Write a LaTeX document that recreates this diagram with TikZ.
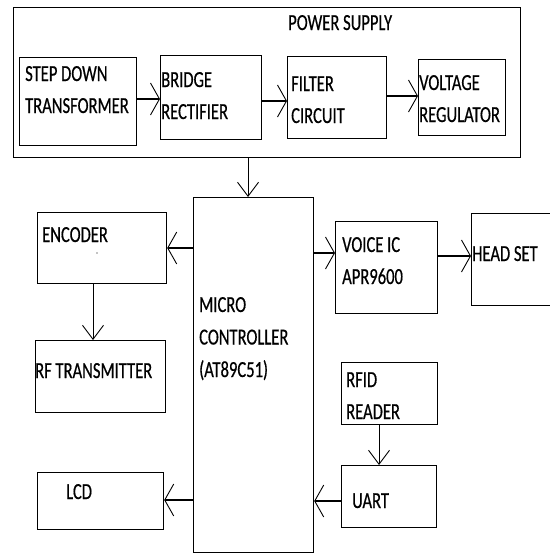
\documentclass[tikz,border=0pt]{standalone}
\usepackage{fontspec}
\setmainfont{Carlito}[FakeStretch=0.72,FakeBold=0.5]
\usetikzlibrary{arrows.meta}
\begin{document}
\begin{tikzpicture}[x=1pt,y=-1pt,
  box/.style={draw=black,line width=1.2pt,inner sep=0pt,anchor=north west},
  lbl/.style={anchor=base west,inner sep=0pt,align=left,font=\fontsize{23}{32}\selectfont,text=black},
  harr/.style={line width=1.5pt,-{Straight Barb[length=9pt,width=32pt,line width=0.9pt]}},
  varr/.style={line width=1pt,-{Straight Barb[length=14pt,width=21pt,line width=0.9pt]}}]
\useasboundingbox[fill=white] (0,0) rectangle (549,554);
% power supply
\node[box,minimum width=507pt,minimum height=150pt] (ps) at (13,7) {};
\node[lbl] (pst) at (288,30) {POWER SUPPLY};
\node[box,minimum width=117pt,minimum height=88pt] (step) at (19,57) {};
\node[lbl] (stept) at (25,113) {STEP DOWN\\TRANSFORMER};
\node[box,minimum width=101pt,minimum height=84pt] (bridge) at (160,55) {};
\node[lbl] (bridget) at (161,119) {BRIDGE\\RECTIFIER};
\node[box,minimum width=99pt,minimum height=82pt] (filter) at (287,56) {};
\node[lbl] (filtert) at (291,123) {FILTER\\CIRCUIT};
\node[box,minimum width=87pt,minimum height=76pt] (volt) at (418,59) {};
\node[lbl] (voltt) at (419,122) {VOLTAGE\\REGULATOR};
% micro
\node[box,minimum width=120pt,minimum height=355pt] (micro) at (193,197) {};
\node[lbl,font=\fontsize{23}{32.5}\selectfont] (microt) at (199,377) {MICRO\\CONTROLLER\\(AT89C51)};
% left
\node[box,minimum width=129pt,minimum height=71pt] (enc) at (37,212) {};
\node[lbl] (enct) at (42,242) {ENCODER};
\fill (97,253) circle (0.7pt);
\node[box,minimum width=130pt,minimum height=72pt] (rf) at (35,340) {};
\node[lbl] (rft) at (35,378) {RF TRANSMITTER};
\node[box,minimum width=126pt,minimum height=57pt] (lcd) at (37,472) {};
\node[lbl] (lcdt) at (66,499) {LCD};
% right
\node[box,minimum width=102pt,minimum height=92pt] (voice) at (335,221) {};
\node[lbl] (voicet) at (342,284) {VOICE IC\\APR9600};
\node[box,minimum width=100pt,minimum height=92pt] (head) at (471,213) {};
\node[lbl] (headt) at (472,261) {HEAD SET};
\node[box,minimum width=96pt,minimum height=62pt] (rfid) at (341,362) {};
\node[lbl] (rfidt) at (346,419) {RFID\\READER};
\node[box,minimum width=95pt,minimum height=62pt] (uart) at (341,465) {};
\node[lbl] (uartt) at (352,508) {UART};
% connectors
\draw[harr] (step.east |- 0,99) -- (bridge.west |- 0,99);
\draw[harr] (bridge.east |- 0,101) -- (filter.west |- 0,101);
\draw[harr] (filter.east |- 0,96) -- (volt.west |- 0,96);
\coordinate (pa) at (248,0);
\draw[varr] (pa |- ps.south) -- (pa |- micro.north);
\draw[harr] (micro.west |- 0,248) -- (enc.east |- 0,248);
\coordinate (pb) at (93,0);
\draw[varr] (pb |- enc.south) -- (pb |- rf.north);
\draw[harr] (micro.west |- 0,500) -- (lcd.east |- 0,500);
\draw[harr] (micro.east |- 0,253) -- (voice.west |- 0,253);
\draw[harr] (voice.east |- 0,256) -- (head.west |- 0,256);
\coordinate (pc) at (379,0);
\draw[varr] (pc |- rfid.south) -- (pc |- uart.north);
\draw[harr] (uart.west |- 0,501) -- (micro.east |- 0,501);
\end{tikzpicture}
\end{document}
